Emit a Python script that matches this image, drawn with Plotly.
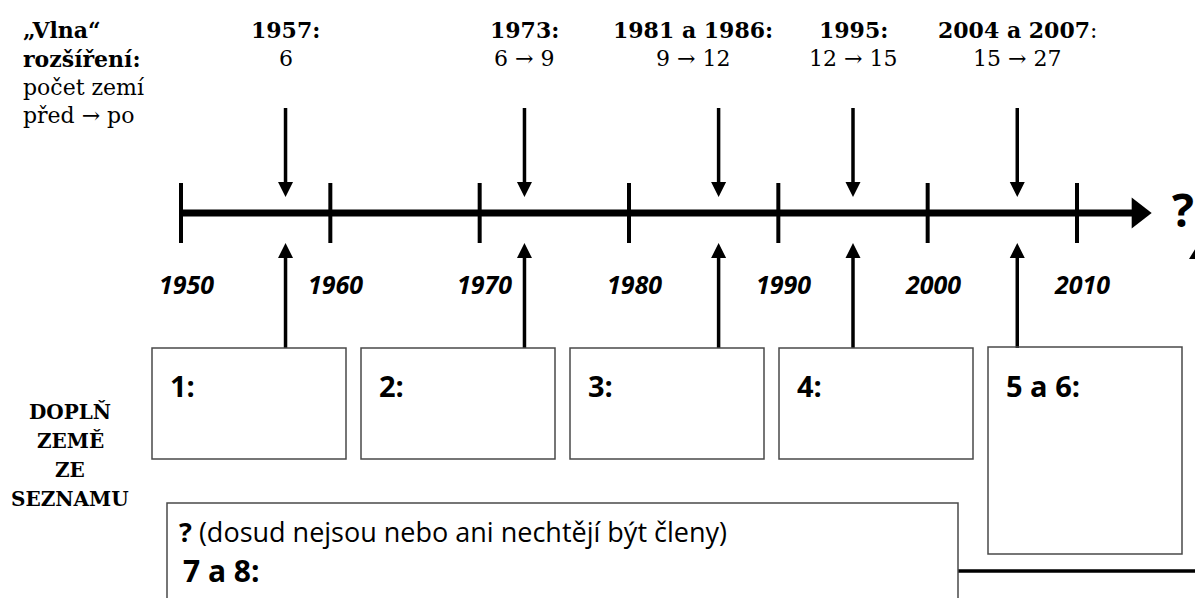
import plotly.graph_objects as go

# ---------------- data ----------------
decades = [1950, 1960, 1970, 1980, 1990, 2000, 2010]
decade_labels = ["1950", "1960", "1970", "1980", "1990", "2000", "2010"]
wave_years = [1957, 1973, 1986, 1995, 2006]          # where each wave arrow meets the axis
wave_titles = ["1957:", "1973:", "1981 a 1986:", "1995:", "2004 a 2007"]
wave_title_suffix = ["", "", "", "", ":"]
wave_counts = ["6", "6 → 9", "9 → 12", "12 → 15", "15 → 27"]
box_labels = ["1:", "2:", "3:", "4:", "5 a 6:"]
timeline_start = 1950
timeline_end = 2015
left_lines = ["<b>„Vlna“</b>", "<b>rozšíření:</b>", "počet zemí", "před → po"]
side_lines = ["DOPLŇ", "ZEMĚ", "ZE", "SEZNAMU"]
bottom_note = "<b>?</b> (dosud nejsou nebo ani nechtějí být členy)"
bottom_label = "7 a 8:"

# ---------------- geometry helpers (layout only) ----------------
W, H = 1195, 598
PX_PER_YR = 896 / 60.0
X0 = 1950 - 181 / PX_PER_YR
X1 = X0 + W / PX_PER_YR


def px(p):
    """pixel x -> axis (year) coordinate"""
    return X0 + p / PX_PER_YR


def dpx(d):
    return d / PX_PER_YR


SERIF = "DejaVu Serif"
SANS = "Open Sans"
AXIS_Y = 213

fig = go.Figure()

# main timeline
head_base = timeline_end - dpx(20)
fig.add_trace(go.Scatter(x=[timeline_start, head_base + dpx(1)], y=[AXIS_Y, AXIS_Y], mode="lines",
                         line=dict(color="black", width=7), hoverinfo="skip"))
fig.add_trace(go.Scatter(x=[head_base, timeline_end, head_base, head_base],
                         y=[AXIS_Y - 15.5, AXIS_Y, AXIS_Y + 15.5, AXIS_Y - 15.5],
                         mode="lines", fill="toself", fillcolor="black",
                         line=dict(color="black", width=0), hoverinfo="skip"))

# decade ticks
tx, ty = [], []
for d in decades:
    tx += [d, d, None]
    ty += [183, 243, None]
fig.add_trace(go.Scatter(x=tx, y=ty, mode="lines", line=dict(color="black", width=4), hoverinfo="skip"))

# wave arrows (down from labels, up from boxes)
sx, sy, hx, hy = [], [], [], []
hw = dpx(7.5)
for w in wave_years:
    sx += [w, w, None, w, w, None]
    sy += [108, 184, None, 348, 256, None]
    hx += [w - hw, w + hw, w, w - hw, None, w - hw, w + hw, w, w - hw, None]
    hy += [182, 182, 197, 182, None, 258, 258, 243, 258, None]
fig.add_trace(go.Scatter(x=sx, y=sy, mode="lines", line=dict(color="black", width=3.5), hoverinfo="skip"))
fig.add_trace(go.Scatter(x=hx, y=hy, mode="lines", fill="toself", fillcolor="black",
                         line=dict(color="black", width=0), hoverinfo="skip"))

# bottom-right connector line and partial arrowhead
fig.add_trace(go.Scatter(x=[px(958), px(1200)], y=[571, 571], mode="lines",
                         line=dict(color="black", width=3.5), hoverinfo="skip"))
fig.add_trace(go.Scatter(x=[px(1189), px(1197), px(1197), px(1189)], y=[259, 246, 259, 259],
                         mode="lines", fill="toself", fillcolor="black",
                         line=dict(color="black", width=0), hoverinfo="skip"))

# boxes
boxes_px = [(152, 348, 346, 459), (361, 348, 555, 459), (570, 348, 764, 459),
            (779, 348, 973, 459), (988, 347, 1182, 554)]
shapes = []
for (x0, y0, x1, y1) in boxes_px:
    shapes.append(dict(type="rect", xref="x", yref="y", x0=px(x0), x1=px(x1), y0=y0, y1=y1,
                       line=dict(color="#4a4a4a", width=1.5), fillcolor="rgba(0,0,0,0)"))
shapes.append(dict(type="rect", xref="x", yref="y", x0=px(167), x1=px(958), y0=503, y1=640,
                   line=dict(color="#4a4a4a", width=1.5), fillcolor="rgba(0,0,0,0)"))

ann = []
# wave titles above arrows
title_shift = [0, 0, -26, 0, 0]
for w, t, s, c, sh in zip(wave_years, wave_titles, wave_title_suffix, wave_counts, title_shift):
    ann.append(dict(x=w, y=30, text=f"<b>{t}</b>{s}", xshift=sh, showarrow=False,
                    font=dict(family=SERIF, size=22, color="black"), xanchor="center", yanchor="middle"))
    ann.append(dict(x=w, y=58, text=c, xshift=sh, showarrow=False,
                    font=dict(family=SERIF, size=22, color="black"), xanchor="center", yanchor="middle"))

# decade labels
for d, lab in zip(decades, decade_labels):
    ann.append(dict(x=d, y=284, text=f"<b><i>{lab}</i></b>", xshift=5, showarrow=False,
                    font=dict(family=SANS, size=25, color="black"), xanchor="center", yanchor="middle"))

# left explanation
for i, line in enumerate(left_lines):
    ann.append(dict(x=px(21), y=30 + i * 28.5, text=line, showarrow=False,
                    font=dict(family=SERIF, size=22, color="black"), xanchor="left", yanchor="middle"))

# side instruction
for i, line in enumerate(side_lines):
    ann.append(dict(x=px(70), y=412 + i * 29, text=f"<b>{line}</b>", showarrow=False,
                    font=dict(family=SERIF, size=20, color="black"), xanchor="center", yanchor="middle"))

# box labels
for (x0, y0, x1, y1), lab in zip(boxes_px, box_labels):
    ann.append(dict(x=px(x0 + 16), y=385, text=f"<b>{lab}</b>", showarrow=False,
                    font=dict(family=SANS, size=29, color="black"), xanchor="left", yanchor="middle"))

ann.append(dict(x=px(177), y=531, text=bottom_note, showarrow=False,
                font=dict(family=SANS, size=27, color="black"), xanchor="left", yanchor="middle"))
ann.append(dict(x=px(181), y=570, text=f"<b>{bottom_label}</b>", showarrow=False,
                font=dict(family=SANS, size=30, color="black"), xanchor="left", yanchor="middle"))

# question mark at the end of the timeline
ann.append(dict(x=px(1183), y=209, text="<b>?</b>", showarrow=False,
                font=dict(family=SANS, size=46, color="black"), xanchor="center", yanchor="middle"))

fig.update_layout(
    width=W, height=H, margin=dict(l=0, r=0, t=0, b=0),
    paper_bgcolor="white", plot_bgcolor="white", showlegend=False,
    xaxis=dict(range=[X0, X1], visible=False, showgrid=False, zeroline=False, fixedrange=True),
    yaxis=dict(range=[H, 0], visible=False, showgrid=False, zeroline=False, fixedrange=True),
    shapes=shapes, annotations=ann,
)

fig.write_html("out.html", config={"displayModeBar": False},
               post_script="document.body.style.margin='0';document.body.style.overflow='hidden';")
